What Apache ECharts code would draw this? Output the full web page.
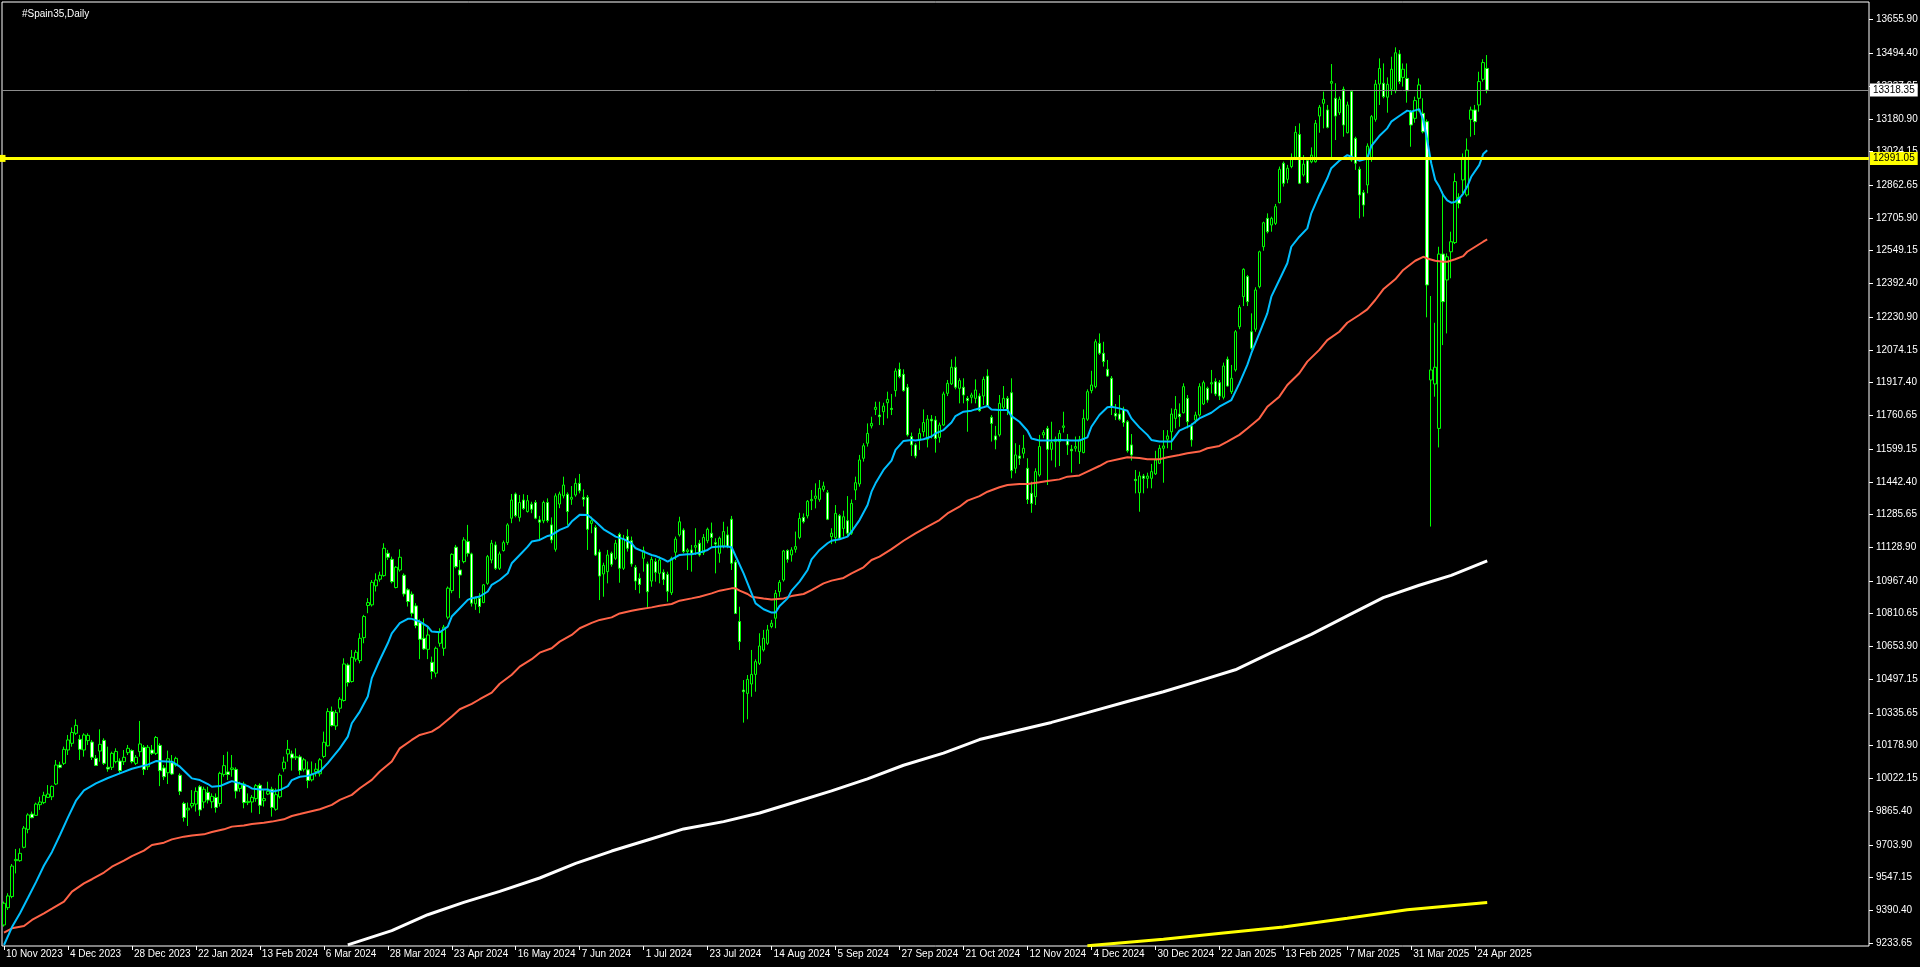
<!DOCTYPE html>
<html><head><meta charset="utf-8">
<script src="https://cdn.jsdelivr.net/npm/echarts@6/dist/echarts.min.js"></script>
<style>html,body{margin:0;padding:0;background:#000;overflow:hidden}#c{width:1920px;height:967px}</style>
</head><body><div id="c"></div>
<script>
const chartTitle = '#Spain35,Daily';
const firstDate = '2023-11-10';
const holidays = ['2023-12-25','2023-12-26','2024-01-01','2024-03-29','2024-04-01','2024-05-01','2024-12-25','2024-12-26','2025-01-01','2025-04-18','2025-04-21','2025-05-01','2025-12-25','2025-12-26'];
const xTickLabels = ['10 Nov 2023','4 Dec 2023','28 Dec 2023','22 Jan 2024','13 Feb 2024','6 Mar 2024','28 Mar 2024','23 Apr 2024','16 May 2024','7 Jun 2024','1 Jul 2024','23 Jul 2024','14 Aug 2024','5 Sep 2024','27 Sep 2024','21 Oct 2024','12 Nov 2024','4 Dec 2024','30 Dec 2024','22 Jan 2025','13 Feb 2025','7 Mar 2025','31 Mar 2025','24 Apr 2025'];
const yTickValues = [13655.90,13494.40,13337.65,13180.90,13024.15,12862.65,12705.90,12549.15,12392.40,12230.90,12074.15,11917.40,11760.65,11599.15,11442.40,11285.65,11128.90,10967.40,10810.65,10653.90,10497.15,10335.65,10178.90,10022.15,9865.40,9703.90,9547.15,9390.40,9233.65];
const bidPrice = 13318.35;
const levelPrice = 12991.05;

// [open, close, low, high]
const candles = [
[9320,9424,9312,9432],[9403,9459,9392,9472],[9456,9602,9448,9612],[9628,9634,9567,9684],[9628,9663,9623,9687],
[9692,9784,9687,9794],[9778,9847,9759,9855],[9851,9834,9831,9863],[9845,9899,9842,9906],[9896,9909,9871,9934],
[9906,9941,9899,9958],[9931,9947,9928,9990],[9934,9984,9918,9988],[9995,10086,9990,10110],[10086,10075,10070,10102],
[10094,10161,10086,10174],[10158,10206,10134,10230],[10190,10242,10174,10266],[10238,10276,10230,10305],[10209,10161,10110,10230],
[10158,10230,10126,10238],[10203,10228,10182,10238],[10196,10123,10110,10206],[10118,10084,10081,10134],[10153,10185,10102,10257],
[10204,10094,10086,10214],[10075,10067,10054,10174],[10075,10142,10062,10150],[10102,10151,10094,10166],[10105,10059,10046,10118],
[10102,10123,10086,10158],[10145,10166,10134,10182],[10155,10102,10094,10161],[10094,10123,10086,10134],[10150,10187,10126,10297],
[10171,10065,10038,10182],[10078,10171,10062,10182],[10158,10142,10134,10182],[10142,10218,10134,10225],[10180,10059,9985,10190],
[10072,10030,10014,10086],[10049,10116,9995,10155],[10097,10043,10038,10134],[10086,10118,10078,10126],[10037,9960,9942,10046],
[9902,9835,9815,9910],[9871,9879,9794,9906],[9890,9902,9879,9966],[9899,9960,9863,9979],[9982,9871,9842,9990],
[9909,9970,9879,9982],[9955,9918,9902,9982],[9910,9936,9879,9950],[9931,9883,9858,9950],[9902,10046,9887,10054],
[10041,10083,10030,10134],[10053,10041,10014,10150],[10065,10072,10030,10134],[10065,9961,9926,10075],[9974,9995,9958,10006],
[9995,9906,9879,10006],[9906,9912,9894,9950],[9909,9931,9858,9942],[9925,9987,9910,9995],[9989,9893,9851,9998],
[9915,9925,9887,9966],[9947,9960,9942,10006],[9970,9883,9839,9982],[9874,9944,9867,9974],[9934,10037,9926,10046],
[10068,10100,10054,10126],[10139,10161,10102,10206],[10139,10120,10059,10155],[10121,10126,10110,10166],[10125,10060,10039,10135],
[10066,10111,10055,10120],[10063,10012,9975,10103],[10015,10040,10007,10103],[10055,10066,10031,10095],[10044,10111,10031,10119],
[10127,10195,10119,10246],[10178,10342,10174,10358],[10342,10275,10270,10366],[10273,10337,10254,10350],[10358,10401,10337,10411],
[10395,10570,10390,10597],[10565,10481,10462,10573],[10486,10602,10481,10637],[10593,10626,10581,10637],[10586,10693,10573,10717],
[10696,10797,10669,10805],[10850,10864,10813,10885],[10853,10961,10845,10972],[10944,10972,10917,11004],[10976,10995,10964,11012],
[10993,11124,10988,11148],[11100,11081,11068,11116],[11071,10964,10956,11084],[10936,11033,10932,11039],[11020,11081,11012,11119],
[10995,10905,10893,11004],[10925,10869,10845,10933],[10904,10813,10797,10917],[10848,10754,10741,10861],[10768,10688,10593,10784],
[10693,10642,10637,10789],[10640,10709,10593,10749],[10578,10534,10497,10605],[10526,10645,10506,10653],[10669,10725,10653,10741],
[10645,10746,10609,10757],[10794,10933,10784,10941],[10921,11095,10909,11100],[11129,11036,11028,11140],[11020,10996,10885,11068],
[11060,11164,11052,11177],[11156,11100,11084,11236],[11097,10861,10845,11103],[10858,10885,10829,10893],[10885,10845,10813,10909],
[10864,10949,10861,10953],[10956,11084,10949,11092],[11068,11148,11052,11164],[11140,11028,11020,11156],[11028,11097,11020,11108],
[11113,11151,11108,11161],[11151,11236,11140,11244],[11268,11355,11244,11384],[11384,11280,11272,11391],[11272,11343,11252,11379],
[11355,11314,11308,11383],[11300,11352,11295,11379],[11335,11311,11292,11347],[11343,11268,11263,11355],[11260,11249,11164,11279],
[11255,11343,11244,11352],[11343,11257,11247,11363],[11236,11164,11148,11272],[11119,11375,11108,11387],[11336,11384,11316,11395],
[11375,11427,11363,11467],[11383,11300,11236,11392],[11359,11368,11332,11422],[11379,11435,11371,11459],[11435,11399,11387,11480],
[11368,11359,11324,11406],[11368,11215,11116,11379],[11243,11256,11196,11275],[11224,11092,11087,11235],[11106,10991,10876,11119],
[11001,11042,10892,11055],[11012,11092,10956,11116],[11100,11047,11036,11108],[11076,11148,11068,11164],[11191,11028,10959,11199],
[11028,11167,11020,11188],[11180,11124,11108,11215],[11160,11049,11036,11180],[11033,10967,10924,11044],[10980,10951,10908,11004],
[11076,11113,11012,11132],[11049,10916,10836,11060],[10967,11071,10940,11084],[11060,11009,10964,11076],[11004,11068,10956,11084],
[11009,10975,10948,11023],[10999,10918,10868,11012],[10911,11076,10900,11084],[11105,11168,11068,11180],[11188,11251,11180,11275],
[11211,11108,11100,11220],[11108,11116,11020,11124],[11116,11100,11012,11140],[11129,11137,11092,11220],[11148,11092,11084,11164],
[11103,11176,11092,11192],[11160,11215,11148,11223],[11196,11176,11132,11247],[11151,11144,11004,11172],[11100,11172,11055,11180],
[11135,11204,11124,11251],[11188,11132,11124,11228],[11263,11052,11020,11279],[11058,10812,10809,11068],[10773,10677,10637,10844],
[10445,10437,10289,10493],[10429,10496,10305,10517],[10474,10520,10413,10637],[10520,10581,10437,10592],[10573,10656,10565,10717],
[10637,10693,10629,10733],[10669,10733,10661,10757],[10749,10765,10741,10781],[10789,10908,10741,10924],[10916,10961,10892,10972],
[10972,11111,10964,11116],[11113,11071,11055,11119],[11092,11116,11060,11129],[11119,11132,11103,11204],[11176,11267,11167,11294],
[11272,11251,11243,11291],[11279,11349,11267,11355],[11352,11358,11307,11403],[11363,11374,11315,11435],[11358,11411,11347,11451],
[11406,11422,11395,11443],[11390,11263,11259,11403],[11180,11196,11144,11220],[11176,11291,11148,11331],[11280,11172,11164,11288],
[11219,11275,11180,11304],[11256,11196,11180,11374],[11196,11339,11188,11358],[11403,11438,11355,11467],[11432,11547,11419,11571],
[11555,11615,11539,11627],[11627,11674,11611,11722],[11710,11722,11698,11754],[11789,11799,11762,11826],[11762,11754,11714,11826],
[11778,11805,11714,11821],[11821,11837,11746,11874],[11794,11789,11762,11863],[11879,11973,11850,11986],[11981,11946,11938,12013],
[11957,11879,11874,11981],[11895,11667,11659,11911],[11659,11619,11566,11678],[11619,11566,11555,11627],[11642,11674,11595,11698],
[11682,11726,11659,11789],[11646,11742,11607,11762],[11742,11734,11650,11762],[11738,11650,11582,11757],[11655,11714,11630,11726],
[11714,11863,11710,11874],[11866,11914,11853,11930],[11911,11991,11906,12029],[11991,11895,11885,12042],[11890,11927,11818,11938],
[11895,11858,11818,11938],[11842,11831,11682,11853],[11847,11858,11818,11869],[11842,11882,11818,11933],[11853,11783,11778,11866],
[11853,11933,11810,11946],[11949,11805,11802,11981],[11751,11722,11635,11762],[11662,11643,11598,11710],[11667,11818,11659,11858],
[11799,11842,11786,11901],[11842,11789,11762,11853],[11869,11496,11459,11938],[11507,11571,11483,11627],[11566,11555,11523,11619],
[11579,11603,11555,11667],[11507,11358,11336,11555],[11387,11339,11294,11443],[11371,11491,11331,11507],[11475,11611,11467,11667],
[11667,11678,11651,11690],[11698,11598,11427,11710],[11598,11630,11544,11730],[11635,11646,11512,11659],[11635,11674,11518,11690],
[11703,11710,11678,11778],[11646,11619,11571,11671],[11598,11591,11486,11619],[11603,11611,11587,11659],[11587,11643,11528,11662],
[11582,11746,11579,11789],[11742,11874,11734,11885],[11879,11906,11866,11974],[11898,12113,11890,12125],[12105,12058,12050,12153],
[12058,12018,11994,12113],[11981,11949,11946,12026],[11938,11802,11762,11949],[11770,11757,11738,11815],[11767,11742,11735,11858],
[11789,11726,11706,11802],[11730,11591,11582,11738],[11619,11571,11544,11671],[11454,11448,11387,11499],[11390,11470,11299,11491],
[11470,11459,11387,11480],[11459,11470,11411,11486],[11459,11491,11411,11528],[11480,11547,11475,11591],[11531,11603,11528,11619],
[11603,11614,11438,11690],[11646,11662,11603,11690],[11682,11767,11595,11794],[11746,11789,11698,11853],[11767,11754,11706,11818],
[11773,11898,11770,11914],[11842,11730,11698,11858],[11710,11643,11611,11722],[11738,11762,11722,11778],[11762,11898,11754,11914],
[11815,11917,11810,11927],[11890,11834,11821,11898],[11911,11917,11866,11978],[11922,11863,11853,11938],[11917,11853,11834,11930],
[11847,11997,11837,12013],[12029,11901,11898,12042],[11874,11938,11863,12002],[11978,12161,11970,12169],[12185,12278,12173,12289],
[12329,12460,12284,12465],[12425,12305,12284,12433],[12161,12082,12074,12249],[12173,12361,12161,12374],[12377,12544,12369,12549],
[12568,12683,12549,12688],[12704,12640,12632,12728],[12672,12704,12640,12712],[12680,12760,12672,12773],[12779,12939,12776,12952],
[12968,12872,12856,12976],[12891,12944,12872,12960],[12952,12996,12944,13015],[12996,13116,12983,13146],[13106,12872,12868,13159],
[12912,12964,12904,13007],[12980,12875,12872,12991],[12975,13007,12968,13044],[12975,13159,12971,13175],[13194,13236,13114,13247],
[13255,13274,13135,13311],[13223,13140,13135,13247],[13351,13359,12987,13443],[13279,13194,13079,13351],[13210,13274,13199,13287],
[13322,13151,13095,13335],[13114,13247,13111,13263],[13311,12983,12975,13319],[13087,12968,12936,13095],[12939,12816,12704,12952],
[12827,12768,12712,12840],[12864,13050,12824,13063],[12991,13191,12975,13199],[13178,13347,13167,13367],[13347,13422,13247,13470],
[13351,13287,13279,13446],[13284,13346,13210,13379],[13322,13418,13295,13478],[13315,13497,13303,13523],[13491,13359,13347,13510],
[13379,13418,13335,13446],[13374,13315,13258,13446],[13215,13151,13047,13223],[13183,13268,13162,13287],[13279,13343,13215,13374],
[13207,13119,13111,13279],[13167,12385,12230,13178],[11930,11978,11228,12332],[11911,11991,11850,12204],[11698,12533,11607,12568],
[12533,12305,12097,12832],[12409,12520,12153,12536],[12544,12592,12417,12640],[12588,12880,12581,12920],[12805,12776,12752,12824],
[12888,12996,12824,13015],[12816,13031,12808,13087],[13178,13223,13095,13239],[13223,13167,13103,13247],[13247,13359,13215,13406],
[13370,13450,13359,13466],[13422,13318,13303,13486]
];

// moving averages: [bar index, value]
const maBlue = [[0,9224],[2,9310],[4,9376],[6,9450],[8,9525],[10,9605],[12,9670],[14,9751],[16,9835],[18,9915],[20,9965],[23,9998],[26,10024],[29,10046],[32,10068],[36,10088],[38,10105],[42,10102],[44,10078],[46,10041],[47,10022],[49,10014],[51,9995],[52,9982],[54,9985],[56,10001],[57,10009],[59,9998],[61,9985],[62,9974],[64,9969],[66,9969],[67,9958],[69,9966],[71,9985],[72,10014],[74,10030],[76,10034],[79,10055],[81,10095],[82,10119],[84,10166],[86,10222],[87,10286],[89,10342],[91,10414],[92,10502],[94,10589],[96,10669],[97,10717],[99,10765],[101,10786],[102,10786],[104,10773],[106,10749],[107,10725],[109,10722],[111,10749],[112,10797],[114,10837],[116,10877],[117,10885],[119,10893],[121,10917],[122,10949],[124,10972],[126,11004],[127,11052],[129,11092],[131,11132],[132,11156],[134,11164],[136,11183],[137,11188],[139,11212],[141,11228],[142,11252],[144,11284],[146,11283],[148,11251],[150,11215],[152,11192],[153,11180],[155,11168],[157,11148],[158,11124],[160,11108],[162,11092],[163,11087],[165,11071],[166,11060],[167,11071],[169,11092],[171,11095],[172,11095],[174,11103],[176,11116],[177,11129],[179,11132],[181,11132],[182,11129],[183,11087],[185,11004],[187,10908],[188,10860],[190,10832],[192,10816],[193,10816],[194,10848],[196,10884],[197,10921],[199,10964],[201,11020],[202,11071],[204,11116],[206,11148],[207,11160],[209,11167],[211,11180],[212,11204],[214,11259],[216,11331],[217,11395],[218,11435],[220,11499],[222,11544],[223,11595],[225,11638],[227,11643],[228,11640],[230,11646],[232,11659],[233,11674],[235,11690],[237,11726],[238,11757],[240,11778],[242,11783],[243,11789],[245,11799],[246,11805],[247,11789],[249,11786],[251,11786],[252,11757],[254,11730],[256,11687],[257,11650],[259,11640],[262,11640],[264,11643],[267,11640],[269,11640],[271,11655],[272,11706],[274,11762],[276,11799],[277,11802],[279,11794],[281,11783],[282,11746],[284,11703],[286,11667],[287,11643],[289,11635],[292,11635],[294,11687],[297,11714],[299,11746],[302,11773],[304,11802],[307,11834],[309,11914],[311,12002],[312,12058],[314,12153],[316,12249],[317,12329],[319,12409],[321,12489],[322,12568],[324,12616],[326,12656],[327,12728],[329,12816],[331,12896],[332,12944],[334,12980],[336,13007],[337,12999],[339,12980],[341,12991],[342,13050],[344,13098],[346,13135],[347,13167],[349,13194],[351,13220],[352,13215],[354,13227],[355,13175],[356,13079],[357,12968],[358,12888],[359,12856],[360,12815],[361,12790],[362,12779],[363,12783],[364,12799],[365,12823],[366,12856],[367,12903],[369,12959],[370,13012],[371,13030]];

const maRed = [[0,9283],[2,9304],[5,9315],[7,9344],[10,9376],[12,9398],[15,9432],[17,9480],[20,9519],[22,9539],[25,9571],[27,9599],[30,9628],[32,9650],[35,9676],[37,9703],[40,9714],[42,9730],[45,9743],[47,9749],[50,9754],[52,9765],[55,9778],[57,9791],[60,9796],[62,9804],[65,9810],[67,9815],[70,9826],[72,9842],[74,9851],[79,9874],[82,9895],[84,9919],[87,9943],[89,9975],[92,10015],[94,10055],[97,10103],[99,10166],[102,10206],[104,10230],[107,10246],[109,10270],[112,10318],[114,10353],[117,10379],[119,10401],[122,10433],[124,10475],[127,10518],[129,10557],[132,10593],[134,10624],[137,10645],[139,10677],[142,10709],[144,10741],[147,10767],[149,10781],[152,10793],[154,10812],[157,10825],[159,10832],[162,10841],[164,10849],[167,10857],[169,10873],[172,10884],[174,10892],[177,10908],[179,10921],[182,10932],[183,10932],[184,10921],[186,10905],[187,10892],[190,10884],[192,10879],[195,10884],[197,10895],[200,10905],[202,10924],[205,10956],[207,10969],[210,10982],[212,11004],[215,11033],[217,11068],[219,11084],[222,11120],[225,11160],[228,11195],[231,11228],[234,11259],[236,11291],[239,11323],[241,11352],[244,11374],[246,11395],[249,11416],[251,11427],[254,11432],[256,11432],[259,11440],[261,11446],[264,11454],[266,11467],[269,11473],[271,11491],[274,11518],[276,11539],[279,11552],[281,11560],[284,11556],[286,11550],[289,11550],[291,11560],[294,11571],[296,11579],[299,11587],[301,11603],[304,11614],[306,11635],[309,11667],[311,11698],[314,11746],[316,11802],[319,11850],[321,11906],[324,11962],[326,12018],[329,12074],[331,12121],[334,12161],[336,12204],[339,12241],[341,12268],[343,12313],[345,12364],[348,12412],[350,12457],[353,12501],[355,12520],[356,12512],[358,12501],[360,12496],[361,12496],[363,12508],[365,12523],[366,12544],[368,12568],[370,12592],[371,12603]];

const maWhite = [[86,9225],[97,9293],[106,9369],[115,9428],[124,9481],[134,9545],[143,9615],[152,9674],[161,9727],[170,9780],[180,9815],[189,9856],[198,9909],[207,9962],[216,10020],[225,10085],[235,10143],[244,10208],[253,10249],[262,10290],[271,10337],[281,10390],[290,10437],[299,10489],[308,10542],[317,10624],[327,10712],[336,10800],[345,10888],[354,10947],[362,10994],[371,11064]];

const maYellow = [[271,9220],[290,9252],[305,9281],[320,9310],[336,9352],[351,9393],[371,9428]];

// ---- build ----
const MONTHS = ['Jan','Feb','Mar','Apr','May','Jun','Jul','Aug','Sep','Oct','Nov','Dec'];
const TOTAL_SLOTS = 467;
const holidaySet = new Set(holidays);
const categories = [];
let d = new Date(firstDate + 'T00:00:00Z');
while (categories.length < TOTAL_SLOTS) {
  const dow = d.getUTCDay();
  const iso = d.toISOString().slice(0, 10);
  if (dow !== 0 && dow !== 6 && !holidaySet.has(iso)) {
    categories.push(d.getUTCDate() + ' ' + MONTHS[d.getUTCMonth()] + ' ' + d.getUTCFullYear());
  }
  d = new Date(d.getTime() + 86400000);
}
const labelSet = new Set(xTickLabels);
const showLabel = (idx, val) => labelSet.has(val);

const FONT = "'Liberation Sans', Arial, sans-serif";
const chart = echarts.init(document.getElementById('c'), null, {renderer: 'canvas'});
const lineSeries = (name, data, color, width, z) => ({
  name, type: 'line', data, showSymbol: false, symbol: 'none', smooth: false, z,
  lineStyle: {color, width}, itemStyle: {color}, silent: true, animation: false, clip: true
});

const yellowSeries = lineSeries('MA yellow', maYellow, '#ffff00', 3, 4);
yellowSeries.markLine = {
  silent: true, animation: false, symbol: 'none', z: 10,
  data: [
    {yAxis: bidPrice, lineStyle: {color: '#8c8c8c', width: 1, type: 'solid'},
     label: {show: true, position: 'end', distance: 1, formatter: bidPrice.toFixed(2), backgroundColor: '#ffffff', color: '#000000', padding: [2, 3, 1, 3], fontSize: 10, fontFamily: FONT}},
    {yAxis: levelPrice, symbol: ['rect', 'none'], symbolSize: 7, lineStyle: {color: '#ffff00', width: 3, type: 'solid'},
     label: {show: true, position: 'end', distance: 1, formatter: levelPrice.toFixed(2), backgroundColor: '#ffff00', color: '#000000', padding: [2, 3, 1, 3], fontSize: 10, fontFamily: FONT}}
  ]
};

chart.setOption({
  backgroundColor: '#000000',
  animation: false,
  title: {text: chartTitle, left: 17, top: 4, textStyle: {color: '#ffffff', fontSize: 10, fontWeight: 'normal', fontFamily: FONT}},
  grid: {left: 2, right: 51, top: 2, bottom: 21, show: true, borderColor: '#ffffff', borderWidth: 1, backgroundColor: 'transparent', containLabel: false, outerBoundsMode: 'none'},
  xAxis: {
    type: 'category', data: categories, boundaryGap: true,
    axisLine: {show: false},
    axisTick: {show: true, alignWithLabel: true, interval: showLabel, length: 4, lineStyle: {color: '#ffffff'}},
    axisLabel: {show: true, interval: showLabel, color: '#ffffff', fontSize: 10, fontFamily: FONT, align: 'left', margin: 3, padding: [0, 0, 0, 2], hideOverlap: false},
    splitLine: {show: false}
  },
  yAxis: {
    type: 'value', position: 'right', min: 9219.3, max: 13740.1, scale: true,
    axisLine: {show: false},
    splitLine: {show: false},
    axisTick: {show: true, length: 4, lineStyle: {color: '#ffffff'}, customValues: yTickValues},
    axisLabel: {show: true, color: '#ffffff', fontSize: 10, fontFamily: FONT, margin: 7, customValues: yTickValues, formatter: v => Number(v).toFixed(2), hideOverlap: false}
  },
  series: [
    {
      name: 'Spain35', type: 'candlestick', data: candles, barWidth: 3, z: 2, silent: true, animation: false,
      itemStyle: {color: '#000000', color0: '#ffffff', borderColor: '#00ff00', borderColor0: '#00ff00', borderWidth: 1}
    },
    lineSeries('MA white', maWhite, '#ffffff', 3, 3),
    lineSeries('MA red', maRed, '#ff6347', 2, 3),
    lineSeries('MA blue', maBlue, '#00bfff', 2, 3),
    yellowSeries
  ]
});
</script>
</body></html>
